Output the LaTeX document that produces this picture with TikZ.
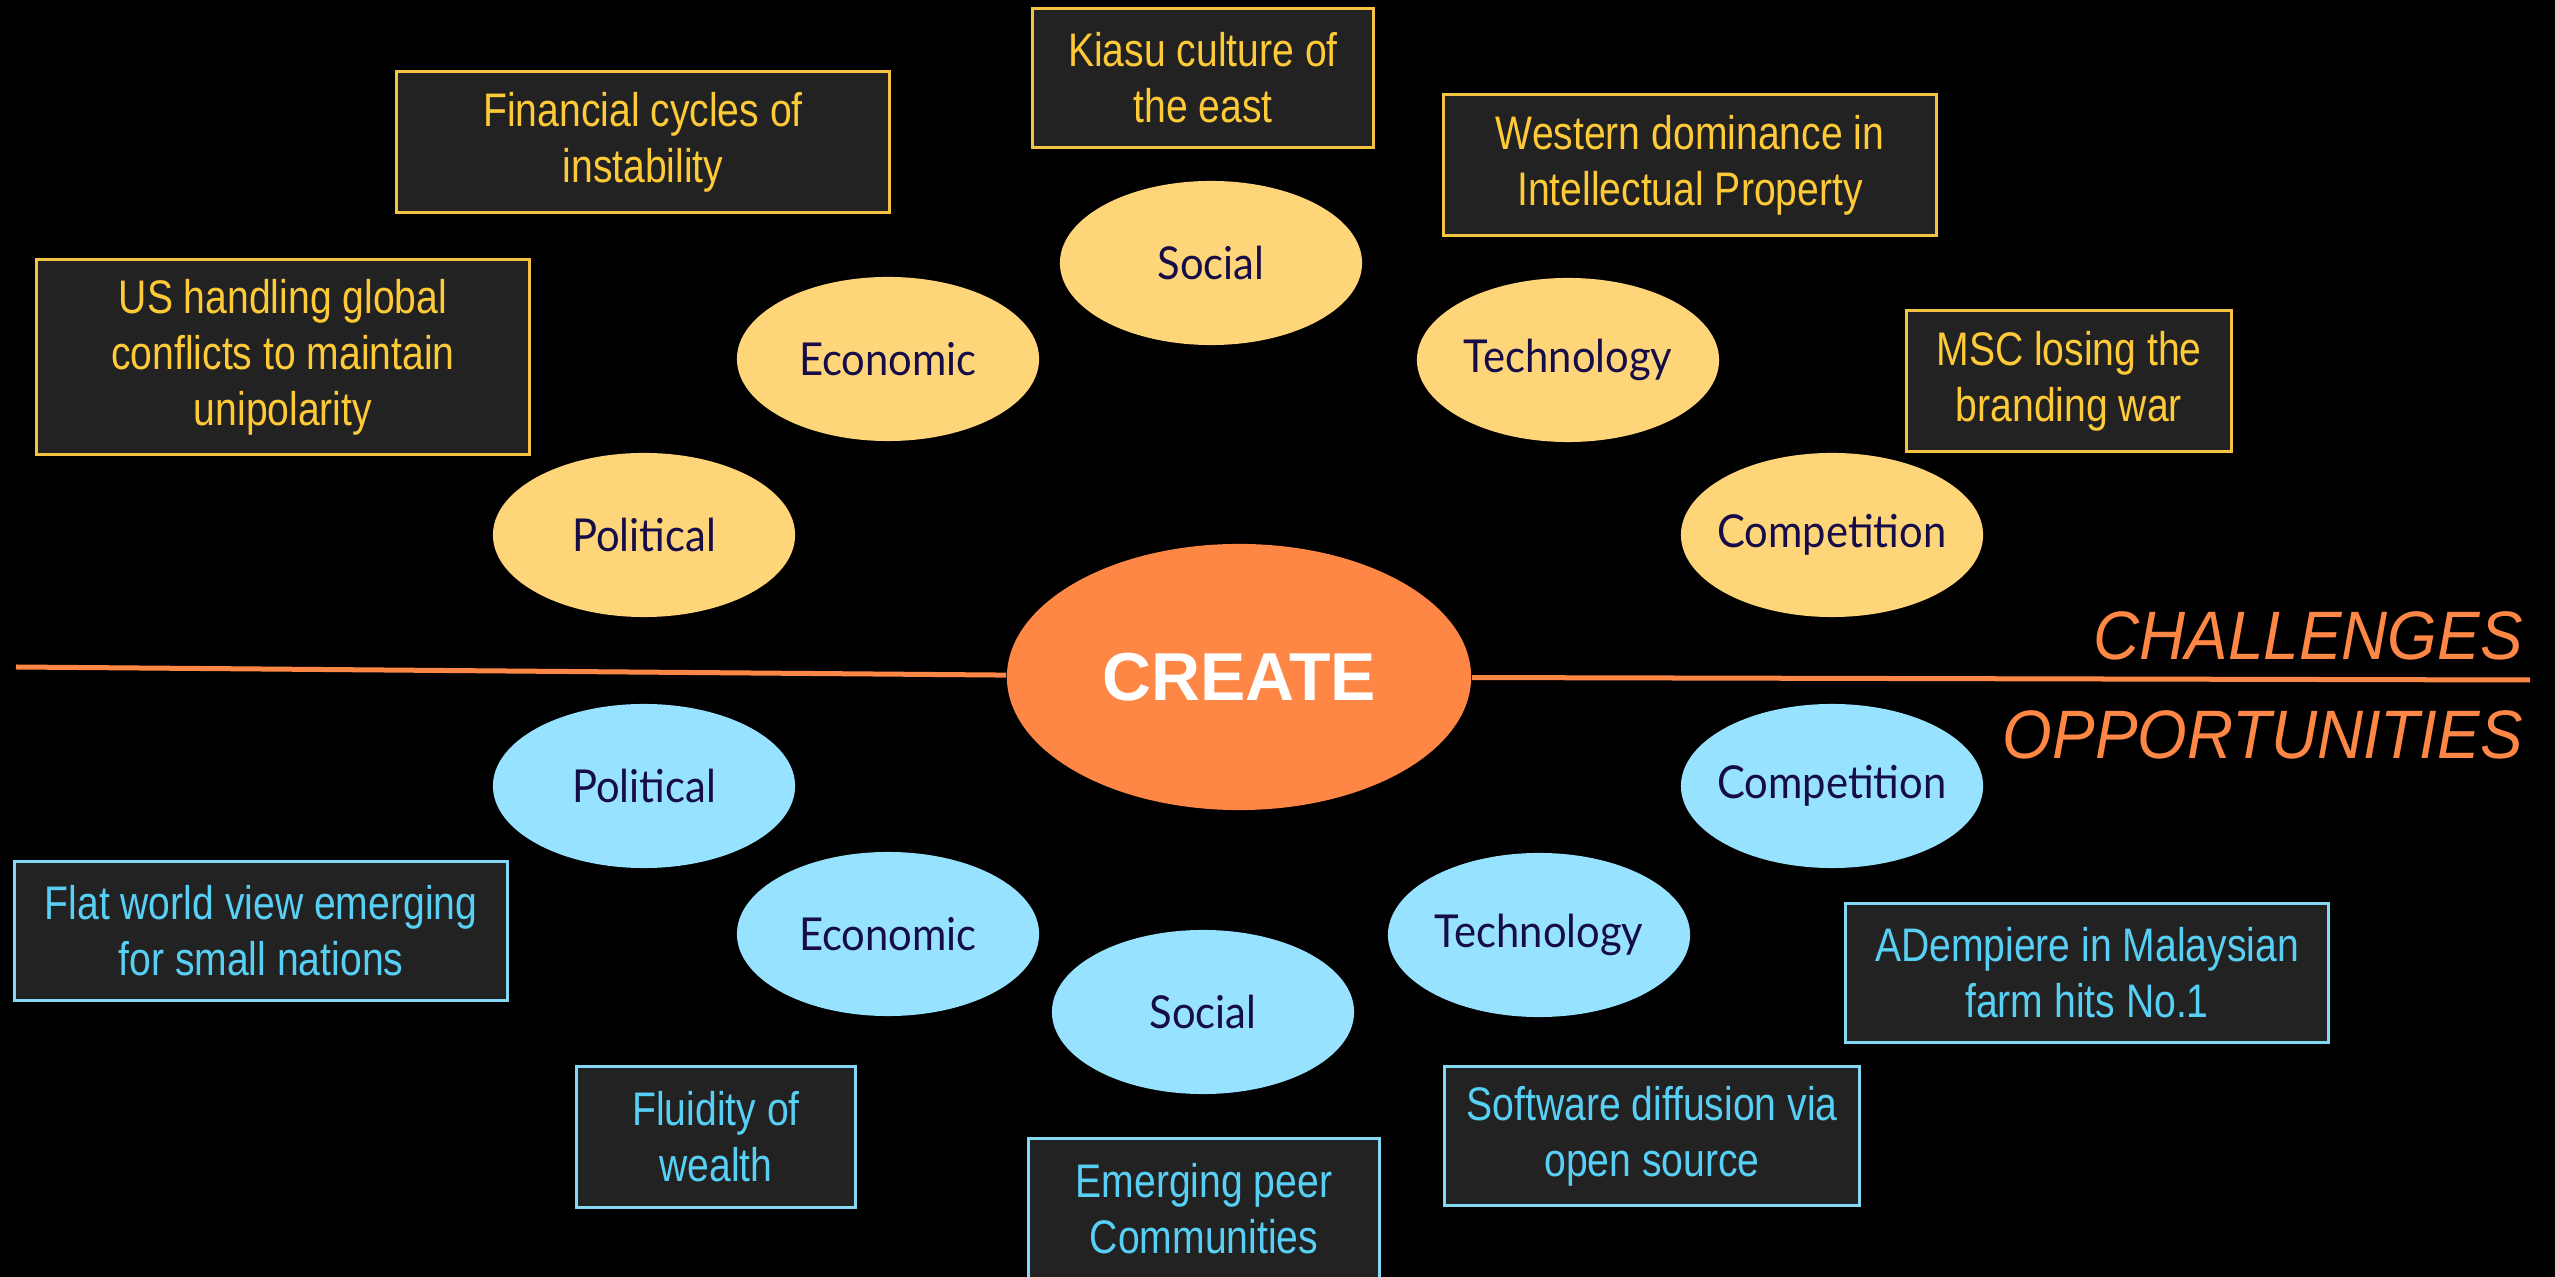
\documentclass[tikz,border=0pt]{standalone}
\usepackage{fontspec}
\usetikzlibrary{shapes.geometric}
\newfontfamily\boxfont[FakeStretch=0.83]{Liberation Sans}
\newfontfamily\ovalfont[FakeStretch=0.92]{Lato}
\newfontfamily\sidefont[FakeStretch=0.93]{Liberation Sans}
\newfontfamily\hubfont{Liberation Sans}
\definecolor{huborange}{RGB}{255,135,70}
\definecolor{chalyellow}{RGB}{255,213,122}
\definecolor{oppblue}{RGB}{150,226,255}
\definecolor{ovalink}{RGB}{22,12,72}
\definecolor{notegray}{RGB}{34,34,34}
\definecolor{chaltext}{RGB}{255,202,55}
\definecolor{chalrule}{RGB}{245,195,66}
\definecolor{opptext}{RGB}{88,208,245}
\definecolor{opprule}{RGB}{130,216,245}
\tikzset{
  hub/.style={ellipse, fill=huborange, minimum width=4.64cm, minimum height=2.66cm, inner sep=0pt, text=white, font=\hubfont\bfseries\fontsize{19.3pt}{22pt}\selectfont},
  oval/.style={ellipse, minimum width=3.02cm, minimum height=1.64cm, inner sep=-0.3cm, text=ovalink, font=\ovalfont\fontsize{12.9pt}{15pt}\selectfont},
  chaloval/.style={oval, fill=chalyellow},
  oppoval/.style={oval, fill=oppblue},
  note/.style={rectangle, fill=notegray, line width=0.03cm, align=center, inner sep=0pt, font=\boxfont\fontsize{13.4pt}{15.9pt}\selectfont},
  chalnote/.style={note, draw=chalrule, text=chaltext},
  oppnote/.style={note, draw=opprule, text=opptext},
  divider/.style={huborange, line width=0.05cm},
  side/.style={anchor=base east, text=huborange, font=\sidefont\itshape\fontsize{19.5pt}{22pt}\selectfont}
}

\begin{document}
\begin{tikzpicture}[x=0.01cm, y=-0.01cm]
\fill[black] (0,0) rectangle (2555,1277);
\useasboundingbox (0,0) rectangle (2555,1277);
% centre and divider
\node[hub] (create) at (1239,677) {CREATE};
\coordinate (lineL) at (16,667);
\coordinate (lineR) at (2530,680);
\draw[divider] (lineL) -- (create);
\draw[divider] (create) -- (lineR);
\node[side] (chal) at (2535,660) {CHALLENGES};
\node[side] (opp) at (2535,759) {OPPORTUNITIES};
% challenges
\node[chaloval] (cpol) at (644,535) {Political};
\node[chaloval] (ceco) at (888,359) {Economic};
\node[chaloval] (csoc) at (1211,263) {Social};
\node[chaloval] (ctec) at (1568,360) {Technology};
\node[chaloval] (ccom) at (1832,535) {Competition};
\node[chalnote, minimum width=4.92cm, minimum height=1.95cm] (cpolnote) at (283,357) {US handling global\\conflicts to maintain\\unipolarity};
\node[chalnote, minimum width=4.92cm, minimum height=1.40cm] (ceconote) at (643,142) {Financial cycles of\\instability};
\node[chalnote, minimum width=3.41cm, minimum height=1.39cm] (csocnote) at (1203,78) {Kiasu culture of\\the east};
\node[chalnote, minimum width=4.92cm, minimum height=1.41cm] (ctecnote) at (1690,165) {Western dominance in\\Intellectual Property};
\node[chalnote, minimum width=3.25cm, minimum height=1.40cm] (ccomnote) at (2069,381) {MSC losing the\\branding war};
% opportunities
\node[oppoval] (opol) at (644,786) {Political};
\node[oppoval] (oeco) at (888,934) {Economic};
\node[oppoval] (osoc) at (1203,1012) {Social};
\node[oppoval] (otec) at (1539,935) {Technology};
\node[oppoval] (ocom) at (1832,786) {Competition};
\node[oppnote, minimum width=4.92cm, minimum height=1.38cm] (opolnote) at (261,931) {Flat world view emerging\\for small nations};
\node[oppnote, minimum width=2.78cm, minimum height=1.40cm] (oeconote) at (716,1137) {Fluidity of\\wealth};
\node[oppnote, minimum width=3.51cm, minimum height=1.40cm] (osocnote) at (1204,1209) {Emerging peer\\Communities};
\node[oppnote, minimum width=4.14cm, minimum height=1.39cm] (otecnote) at (1652,1136) {Software diffusion via\\open source};
\node[oppnote, minimum width=4.83cm, minimum height=1.39cm] (ocomnote) at (2087,973) {ADempiere in Malaysian\\farm hits No.1};
\end{tikzpicture}
\end{document}
